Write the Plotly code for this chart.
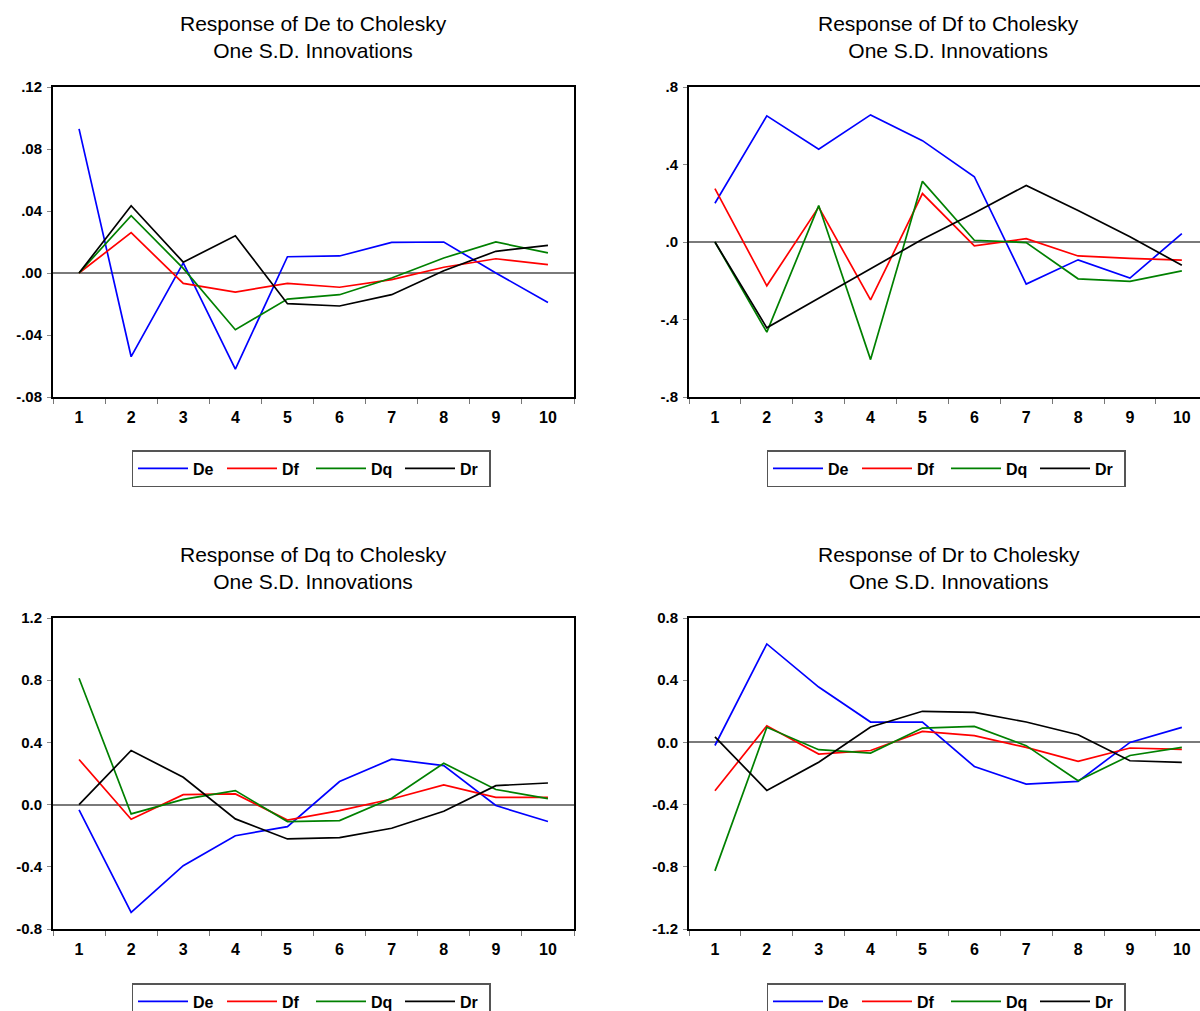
import plotly.graph_objects as go

periods = [1, 2, 3, 4, 5, 6, 7, 8, 9, 10]
series_names = ["De", "Df", "Dq", "Dr"]
series_colors = ["#0000ff", "#ff0000", "#008000", "#000000"]

# Response of De
resp_de = {
    "De": [0.093, -0.054, 0.0065, -0.062, 0.0105, 0.011, 0.0198, 0.020, 0.0, -0.019],
    "Df": [0.0, 0.026, -0.0067, -0.0123, -0.0067, -0.0092, -0.0043, 0.0037, 0.0092, 0.0054],
    "Dq": [0.0, 0.037, 0.003, -0.0366, -0.0168, -0.014, -0.0032, 0.0097, 0.020, 0.013],
    "Dr": [0.0, 0.0434, 0.007, 0.024, -0.0198, -0.0213, -0.014, 0.0015, 0.014, 0.0178],
}
# Response of Df
resp_df = {
    "De": [0.20, 0.651, 0.479, 0.656, 0.523, 0.337, -0.217, -0.092, -0.186, 0.043],
    "Df": [0.275, -0.226, 0.18, -0.299, 0.25, -0.02, 0.017, -0.072, -0.085, -0.094],
    "Dq": [0.0, -0.465, 0.188, -0.607, 0.313, 0.009, -0.003, -0.19, -0.203, -0.149],
    "Dr": [0.0, -0.443, -0.29, -0.14, 0.014, 0.15, 0.292, 0.162, 0.027, -0.12],
}
# Response of Dq
resp_dq = {
    "De": [-0.034, -0.693, -0.393, -0.2, -0.142, 0.148, 0.292, 0.251, -0.006, -0.109],
    "Df": [0.29, -0.094, 0.064, 0.069, -0.099, -0.039, 0.036, 0.127, 0.047, 0.047],
    "Dq": [0.813, -0.06, 0.034, 0.09, -0.109, -0.103, 0.041, 0.266, 0.097, 0.039],
    "Dr": [0.0, 0.348, 0.176, -0.092, -0.221, -0.212, -0.152, -0.043, 0.122, 0.139],
}
# Response of Dr
resp_dr = {
    "De": [-0.02, 0.633, 0.356, 0.131, 0.131, -0.155, -0.268, -0.251, 0.0, 0.097],
    "Df": [-0.311, 0.107, -0.075, -0.052, 0.071, 0.043, -0.032, -0.122, -0.036, -0.045],
    "Dq": [-0.826, 0.097, -0.047, -0.069, 0.092, 0.103, -0.021, -0.247, -0.084, -0.032],
    "Dr": [0.036, -0.309, -0.127, 0.099, 0.2, 0.193, 0.131, 0.049, -0.118, -0.129],
}

titles = [
    "Response of De to Cholesky<br>One S.D. Innovations",
    "Response of Df to Cholesky<br>One S.D. Innovations",
    "Response of Dq to Cholesky<br>One S.D. Innovations",
    "Response of Dr to Cholesky<br>One S.D. Innovations",
]

ytick_vals = [
    [0.12, 0.08, 0.04, 0.0, -0.04, -0.08],
    [0.8, 0.4, 0.0, -0.4, -0.8],
    [1.2, 0.8, 0.4, 0.0, -0.4, -0.8],
    [0.8, 0.4, 0.0, -0.4, -0.8, -1.2],
]
ytick_text = [
    [".12", ".08", ".04", ".00", "-.04", "-.08"],
    [".8", ".4", ".0", "-.4", "-.8"],
    ["1.2", "0.8", "0.4", "0.0", "-0.4", "-0.8"],
    ["0.8", "0.4", "0.0", "-0.4", "-0.8", "-1.2"],
]
y_ranges = [[-0.08, 0.12], [-0.8, 0.8], [-0.8, 1.2], [-1.2, 0.8]]

W, H = 1200, 1011
FONT = "Liberation Sans, Arial, sans-serif"
BOLD = dict(family=FONT, color="black", size=16, weight="bold")

# panel boxes in pixels: (left, right, top, bottom), x range
panels = [
    (53, 574, 87, 397, [0.5, 10.5]),
    (689, 1200, 87, 397, [0.5, 10.35]),
    (53, 574, 618, 929, [0.5, 10.5]),
    (689, 1200, 618, 929, [0.5, 10.35]),
]
legend_centers = [(311, 450), (946, 450), (311, 983), (946, 983)]

fig = go.Figure()
all_data = [resp_de, resp_df, resp_dq, resp_dr]
legend_ids = ["legend", "legend2", "legend3", "legend4"]

layout = dict(
    width=W, height=H,
    margin=dict(l=0, r=0, t=0, b=0, autoexpand=False),
    paper_bgcolor="white", plot_bgcolor="white",
    font=dict(family=FONT, color="black", size=16),
    annotations=[],
)

for i, data in enumerate(all_data):
    ax = "" if i == 0 else str(i + 1)
    for name, col in zip(series_names, series_colors):
        fig.add_trace(go.Scatter(
            x=periods, y=data[name], mode="lines", name=name,
            line=dict(color=col, width=1.7),
            xaxis="x" + ax, yaxis="y" + ax,
            legend=legend_ids[i], showlegend=True,
        ))
    left, right, top, bottom, xr = panels[i]
    right_side = i in (1, 3)
    layout["xaxis" + ax] = dict(
        domain=[left / W, right / W], range=xr, anchor="y" + ax,
        tickmode="array", tickvals=periods, ticktext=[str(p) for p in periods],
        ticks="", showgrid=False, zeroline=False,
        showline=True, linecolor="black", linewidth=2, mirror=True,
        tickfont=BOLD,
        minor=dict(tickmode="array", tickvals=[p - 0.5 for p in periods] + [10.5],
                   ticks="outside", ticklen=5, tickcolor="#777", tickwidth=1.3),
        ticklabelstandoff=5,
        fixedrange=True,
    )
    layout["yaxis" + ax] = dict(
        domain=[1 - bottom / H, 1 - top / H], range=y_ranges[i], anchor="x" + ax,
        tickmode="array", tickvals=ytick_vals[i], ticktext=ytick_text[i],
        ticks="outside", ticklen=4, tickcolor="#888", tickwidth=1.2,
        showgrid=False, zeroline=True, zerolinecolor="#7a7a7a", zerolinewidth=1.8,
        showline=True, linecolor="black", linewidth=2, mirror=not right_side,
        tickfont=dict(family=FONT, color="black", size=15, weight="bold"),
        ticklabelstandoff=2,
        fixedrange=True,
    )
    cx = (left + (right if not right_side else 1208)) / 2
    layout["annotations"].append(dict(
        text=titles[i], x=cx / W, y=1 - (top - 77) / H,
        xref="paper", yref="paper", xanchor="center", yanchor="top",
        showarrow=False, align="center",
        font=dict(size=21, family=FONT, color="black"),
    ))
    lx, ly = legend_centers[i]
    layout[legend_ids[i]] = dict(
        x=lx / W, y=1 - ly / H, xref="container", yref="container",
        xanchor="center", yanchor="top", orientation="h",
        bordercolor="#555555", borderwidth=1.5, bgcolor="white",
        font=BOLD,
        itemwidth=50, entrywidth=24, tracegroupgap=0,
    )

fig.update_layout(**layout)
fig.write_html(
    "out.html",
    config={"displayModeBar": False},
    post_script="document.body.style.margin='0';document.body.style.overflow='hidden';",
)
